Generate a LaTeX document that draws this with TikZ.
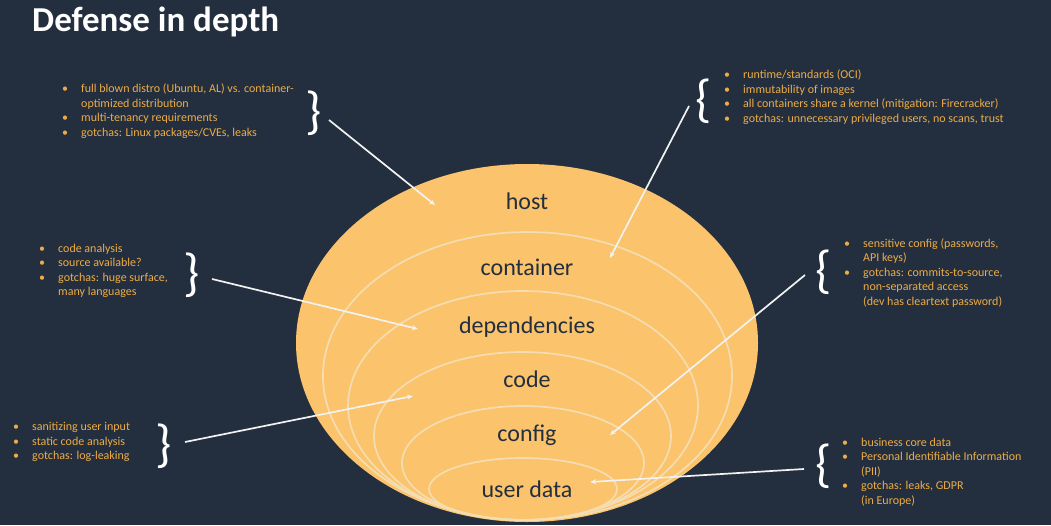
\documentclass[tikz,border=0pt]{standalone}
\usepackage{fontspec}
\setmainfont{Carlito}
\usetikzlibrary{arrows.meta}
\definecolor{bgink}{RGB}{35,47,62}
\definecolor{onion}{RGB}{251,195,107}
\definecolor{ringline}{RGB}{245,221,178}
\definecolor{noteorange}{RGB}{238,172,70}
\newcommand{\bl}{\makebox[19pt][l]{\textbullet}}
\newcommand{\nb}{\hspace*{19pt}}
\tikzset{
	layer/.style={font=\fontsize{24}{28}\selectfont, text=bgink, anchor=base, inner sep=0pt},
	note/.style={font=\fontsize{12}{14.5}\selectfont, text=noteorange, align=left, anchor=west, inner sep=0pt},
	curly/.style={font=\fontsize{52}{52}\selectfont, text=white, inner sep=0pt},
	ring/.style={draw=ringline, line width=1.7pt},
	pointer/.style={draw=white!90!gray, line width=1.7pt, -{Stealth[length=6pt,width=5pt]}}
}

\begin{document}
\begin{tikzpicture}[x=1pt,y=-1pt]
			%%%%% START %%%%%
			\fill[bgink] (0,0) rectangle (1051,525);
			\useasboundingbox (0,0) rectangle (1051,525);
			\node[anchor=base west, inner sep=0pt, text=white, font=\fontsize{35}{40}\selectfont\bfseries] (title) at (32,31) {Defense in depth};
			
			% onion
			\fill[onion] (527,343) ellipse [x radius=231pt, y radius=179pt];
			\draw[ring] (527.5,376) ellipse [x radius=204.5pt, y radius=144pt];
			\draw[ring] (523,405.5) ellipse [x radius=175pt, y radius=114.5pt];
			\draw[ring] (522.5,436) ellipse [x radius=148.5pt, y radius=84pt];
			\draw[ring] (523,463) ellipse [x radius=121pt, y radius=57pt];
			\draw[ring] (523,489) ellipse [x radius=94pt, y radius=31pt];
			
			\node[layer] (host) at (527,209) {host};
			\node[layer] (container) at (527,275) {container};
			\node[layer] (deps) at (527,333) {dependencies};
			\node[layer] (code) at (527,387) {code};
			\node[layer] (config) at (527,441) {config};
			\node[layer] (userdata) at (527,497) {user data};
			
			% notes
			\node[note] (hostnote) at (62,111) {\bl full blown distro (Ubuntu, AL) vs. container-\\\nb optimized distribution\\\bl multi-tenancy requirements\\\bl gotchas: Linux packages/CVEs, leaks};
			\node[note] (contnote) at (724,97) {\bl runtime/standards (OCI)\\\bl immutability of images\\\bl all containers share a kernel (mitigation: Firecracker)\\\bl gotchas: unnecessary privileged users, no scans, trust};
			\node[note] (depnote) at (39,271) {\bl code analysis\\\bl source available?\\\bl gotchas: huge surface,\\\nb many languages};
			\node[note] (codenote) at (13,442) {\bl sanitizing user input\\\bl static code analysis\\\bl gotchas: log-leaking};
			\node[note] (confnote) at (844,273) {\bl sensitive config (passwords,\\\nb API keys)\\\bl gotchas: commits-to-source,\\\nb non-separated access\\\nb (dev has cleartext password)};
			\node[note] (datanote) at (842,472) {\bl business core data\\\bl Personal Identifiable Information\\\nb (PII)\\\bl gotchas: leaks, GDPR\\\nb (in Europe)};
			
			\node[curly] (hostbrace) at (314,113) {\}};
			\node[curly] (contbrace) at (704,101) {\{};
			\node[curly] (depbrace) at (192,275) {\}};
			\node[curly] (codebrace) at (164,446) {\}};
			\node[curly] (confbrace) at (824,272) {\{};
			\node[curly] (databrace) at (824,466) {\{};
			
			% pointers
			\coordinate (hostfrom) at (329,120);
			\coordinate (hostto) at (435,205);
			\coordinate (contfrom) at (689,106);
			\coordinate (contto) at (610,258);
			\coordinate (depfrom) at (212,279);
			\coordinate (depto) at (418,329);
			\coordinate (codefrom) at (185,442);
			\coordinate (codeto) at (413,396);
			\coordinate (conffrom) at (805,275);
			\coordinate (confto) at (610,435);
			\coordinate (datafrom) at (804,469);
			\coordinate (datato) at (590,482);
			
			\draw[pointer] (hostfrom) -- (hostto);
			\draw[pointer] (contfrom) -- (contto);
			\draw[pointer] (depfrom) -- (depto);
			\draw[pointer] (codefrom) -- (codeto);
			\draw[pointer] (conffrom) -- (confto);
			\draw[pointer] (datafrom) -- (datato);
			%%%%% END %%%%%
\end{tikzpicture}
\end{document}
